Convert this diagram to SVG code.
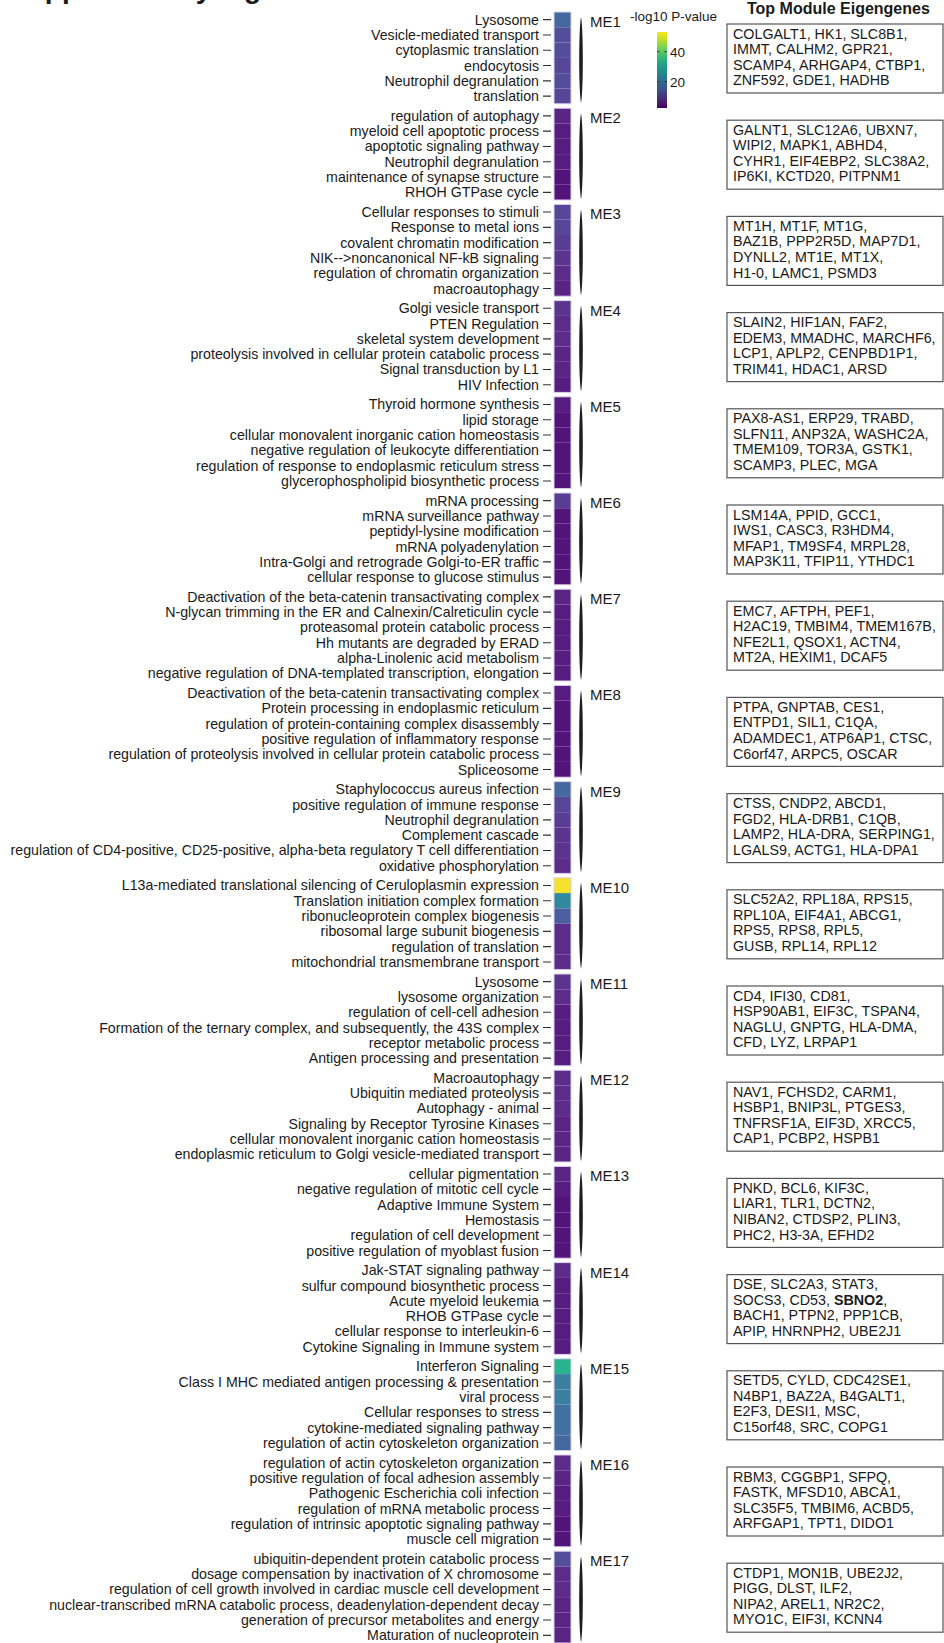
<svg xmlns="http://www.w3.org/2000/svg" xmlns:xlink="http://www.w3.org/1999/xlink" width="944" height="1643" viewBox="0 0 944 1643">
<style>
text{font-family:"Liberation Sans",Arial,Helvetica,sans-serif;fill:#1a1a1a}
.lab{font-size:14.2px;text-anchor:end}
.me{font-size:15px}
.gene{font-size:14.3px}
.leg{font-size:13.5px}
.ttl{font-size:16px;font-weight:bold}
.sup{font-size:28px;font-weight:bold}
.tk{stroke:#333;stroke-width:1.1;fill:none}
.box{fill:#fff;stroke:#555;stroke-width:1.2}
.br{fill:#1e1e1e}
.blk{fill:none;stroke:#dcd2ec;stroke-width:1}
.d0{fill:#52137a}.d1{fill:#571c80}.d2{fill:#5a2485}.d3{fill:#5b2c89}.d4{fill:#5a348d}.d5{fill:#583d92}.d6{fill:#564697}.d7{fill:#524e9a}
.b1{fill:#4b5e9d}.b2{fill:#45699e}.b3{fill:#4071a0}.t1{fill:#3a7fa0}.t2{fill:#31899e}.g{fill:#29b48e}.y{fill:#f5e12b}
</style>
<defs>
<linearGradient id="vir" x1="0" y1="1" x2="0" y2="0">
<stop offset="0" stop-color="#440154"/><stop offset="0.1" stop-color="#482475"/><stop offset="0.2" stop-color="#414487"/><stop offset="0.3" stop-color="#355f8d"/><stop offset="0.4" stop-color="#2a788e"/><stop offset="0.5" stop-color="#21918c"/><stop offset="0.6" stop-color="#22a884"/><stop offset="0.7" stop-color="#44bf70"/><stop offset="0.8" stop-color="#7ad151"/><stop offset="0.9" stop-color="#bddf26"/><stop offset="1" stop-color="#fde725"/>
</linearGradient>
<path id="ticks" class="tk" d="M543,7.65h8M543,22.95h8M543,38.25h8M543,53.55h8M543,68.85h8M543,84.15h8"/>
<path id="br" class="br" d="M581,5C583.4,17 583.4,79 581,91C578.6,79 578.6,17 581,5Z"/>
<rect id="blk" class="blk" x="554" y="0" width="17" height="91.8"/>
<rect id="gbox" class="box" x="727" y="12" width="216" height="69"/>
</defs>

<text class="sup" x="9" y="-2">Supplementary Figure</text>
<text class="ttl" x="747" y="14">Top Module Eigengenes</text>

<g id="legend">
<text class="leg" x="630" y="20.5">-log10 P-value</text>
<rect x="657" y="32" width="10" height="76" fill="url(#vir)"/>
<path d="M657,51.7h2.5M664.5,51.7h2.5M657,81.7h2.5M664.5,81.7h2.5" stroke="#333" stroke-width="1"/>
<text class="leg" x="670" y="56.5">40</text>
<text class="leg" x="670" y="86.5">20</text>
</g>

<g id="connectors"></g>

<g id="me1" transform="translate(0,12)">
<rect class="b2" x="554" y="0" width="17" height="15.3"/><rect class="d7" x="554" y="15.3" width="17" height="15.3"/><rect class="d7" x="554" y="30.6" width="17" height="15.3"/><rect class="d6" x="554" y="45.9" width="17" height="15.3"/><rect class="d7" x="554" y="61.2" width="17" height="15.3"/><rect class="d6" x="554" y="76.5" width="17" height="15.3"/>
<use href="#blk"/><use href="#ticks"/>
<text class="lab" x="539" y="12.65">Lysosome</text>
<text class="lab" x="539" y="27.95">Vesicle-mediated transport</text>
<text class="lab" x="539" y="43.25">cytoplasmic translation</text>
<text class="lab" x="539" y="58.55">endocytosis</text>
<text class="lab" x="539" y="73.85">Neutrophil degranulation</text>
<text class="lab" x="539" y="89.15">translation</text>
<use href="#br"/><text class="me" x="590" y="15">ME1</text>
<use href="#gbox"/>
<text class="gene"><tspan x="733" y="26.5">COLGALT1, HK1, SLC8B1,</tspan><tspan x="733" y="42.1">IMMT, CALHM2, GPR21,</tspan><tspan x="733" y="57.7">SCAMP4, ARHGAP4, CTBP1,</tspan><tspan x="733" y="73.3">ZNF592, GDE1, HADHB</tspan></text>
</g>

<g id="me2" transform="translate(0,108.2)">
<rect class="d2" x="554" y="0" width="17" height="15.3"/><rect class="d1" x="554" y="15.3" width="17" height="15.3"/><rect class="d1" x="554" y="30.6" width="17" height="15.3"/><rect class="d1" x="554" y="45.9" width="17" height="15.3"/><rect class="d0" x="554" y="61.2" width="17" height="15.3"/><rect class="d0" x="554" y="76.5" width="17" height="15.3"/>
<use href="#blk"/><use href="#ticks"/>
<text class="lab" x="539" y="12.65">regulation of autophagy</text>
<text class="lab" x="539" y="27.95">myeloid cell apoptotic process</text>
<text class="lab" x="539" y="43.25">apoptotic signaling pathway</text>
<text class="lab" x="539" y="58.55">Neutrophil degranulation</text>
<text class="lab" x="539" y="73.85">maintenance of synapse structure</text>
<text class="lab" x="539" y="89.15">RHOH GTPase cycle</text>
<use href="#br"/><text class="me" x="590" y="15">ME2</text>
<use href="#gbox"/>
<text class="gene"><tspan x="733" y="26.5">GALNT1, SLC12A6, UBXN7,</tspan><tspan x="733" y="42.1">WIPI2, MAPK1, ABHD4,</tspan><tspan x="733" y="57.7">CYHR1, EIF4EBP2, SLC38A2,</tspan><tspan x="733" y="73.3">IP6KI, KCTD20, PITPNM1</tspan></text>
</g>

<g id="me3" transform="translate(0,204.4)">
<rect class="d6" x="554" y="0" width="17" height="15.3"/><rect class="d6" x="554" y="15.3" width="17" height="15.3"/><rect class="d5" x="554" y="30.6" width="17" height="15.3"/><rect class="d4" x="554" y="45.9" width="17" height="15.3"/><rect class="d3" x="554" y="61.2" width="17" height="15.3"/><rect class="d2" x="554" y="76.5" width="17" height="15.3"/>
<use href="#blk"/><use href="#ticks"/>
<text class="lab" x="539" y="12.65">Cellular responses to stimuli</text>
<text class="lab" x="539" y="27.95">Response to metal ions</text>
<text class="lab" x="539" y="43.25">covalent chromatin modification</text>
<text class="lab" x="539" y="58.55">NIK--&gt;noncanonical NF-kB signaling</text>
<text class="lab" x="539" y="73.85">regulation of chromatin organization</text>
<text class="lab" x="539" y="89.15">macroautophagy</text>
<use href="#br"/><text class="me" x="590" y="15">ME3</text>
<use href="#gbox"/>
<text class="gene"><tspan x="733" y="26.5">MT1H, MT1F, MT1G,</tspan><tspan x="733" y="42.1">BAZ1B, PPP2R5D, MAP7D1,</tspan><tspan x="733" y="57.7">DYNLL2, MT1E, MT1X,</tspan><tspan x="733" y="73.3">H1-0, LAMC1, PSMD3</tspan></text>
</g>

<g id="me4" transform="translate(0,300.6)">
<rect class="d4" x="554" y="0" width="17" height="15.3"/><rect class="d3" x="554" y="15.3" width="17" height="15.3"/><rect class="d3" x="554" y="30.6" width="17" height="15.3"/><rect class="d2" x="554" y="45.9" width="17" height="15.3"/><rect class="d2" x="554" y="61.2" width="17" height="15.3"/><rect class="d1" x="554" y="76.5" width="17" height="15.3"/>
<use href="#blk"/><use href="#ticks"/>
<text class="lab" x="539" y="12.65">Golgi vesicle transport</text>
<text class="lab" x="539" y="27.95">PTEN Regulation</text>
<text class="lab" x="539" y="43.25">skeletal system development</text>
<text class="lab" x="539" y="58.55">proteolysis involved in cellular protein catabolic process</text>
<text class="lab" x="539" y="73.85">Signal transduction by L1</text>
<text class="lab" x="539" y="89.15">HIV Infection</text>
<use href="#br"/><text class="me" x="590" y="15">ME4</text>
<use href="#gbox"/>
<text class="gene"><tspan x="733" y="26.5">SLAIN2, HIF1AN, FAF2,</tspan><tspan x="733" y="42.1">EDEM3, MMADHC, MARCHF6,</tspan><tspan x="733" y="57.7">LCP1, APLP2, CENPBD1P1,</tspan><tspan x="733" y="73.3">TRIM41, HDAC1, ARSD</tspan></text>
</g>

<g id="me5" transform="translate(0,396.8)">
<rect class="d1" x="554" y="0" width="17" height="15.3"/><rect class="d0" x="554" y="15.3" width="17" height="15.3"/><rect class="d0" x="554" y="30.6" width="17" height="15.3"/><rect class="d0" x="554" y="45.9" width="17" height="15.3"/><rect class="d0" x="554" y="61.2" width="17" height="15.3"/><rect class="d0" x="554" y="76.5" width="17" height="15.3"/>
<use href="#blk"/><use href="#ticks"/>
<text class="lab" x="539" y="12.65">Thyroid hormone synthesis</text>
<text class="lab" x="539" y="27.95">lipid storage</text>
<text class="lab" x="539" y="43.25">cellular monovalent inorganic cation homeostasis</text>
<text class="lab" x="539" y="58.55">negative regulation of leukocyte differentiation</text>
<text class="lab" x="539" y="73.85">regulation of response to endoplasmic reticulum stress</text>
<text class="lab" x="539" y="89.15">glycerophospholipid biosynthetic process</text>
<use href="#br"/><text class="me" x="590" y="15">ME5</text>
<use href="#gbox"/>
<text class="gene"><tspan x="733" y="26.5">PAX8-AS1, ERP29, TRABD,</tspan><tspan x="733" y="42.1">SLFN11, ANP32A, WASHC2A,</tspan><tspan x="733" y="57.7">TMEM109, TOR3A, GSTK1,</tspan><tspan x="733" y="73.3">SCAMP3, PLEC, MGA</tspan></text>
</g>

<g id="me6" transform="translate(0,493)">
<rect class="d5" x="554" y="0" width="17" height="15.3"/><rect class="d0" x="554" y="15.3" width="17" height="15.3"/><rect class="d0" x="554" y="30.6" width="17" height="15.3"/><rect class="d0" x="554" y="45.9" width="17" height="15.3"/><rect class="d0" x="554" y="61.2" width="17" height="15.3"/><rect class="d0" x="554" y="76.5" width="17" height="15.3"/>
<use href="#blk"/><use href="#ticks"/>
<text class="lab" x="539" y="12.65">mRNA processing</text>
<text class="lab" x="539" y="27.95">mRNA surveillance pathway</text>
<text class="lab" x="539" y="43.25">peptidyl-lysine modification</text>
<text class="lab" x="539" y="58.55">mRNA polyadenylation</text>
<text class="lab" x="539" y="73.85">Intra-Golgi and retrograde Golgi-to-ER traffic</text>
<text class="lab" x="539" y="89.15">cellular response to glucose stimulus</text>
<use href="#br"/><text class="me" x="590" y="15">ME6</text>
<use href="#gbox"/>
<text class="gene"><tspan x="733" y="26.5">LSM14A, PPID, GCC1,</tspan><tspan x="733" y="42.1">IWS1, CASC3, R3HDM4,</tspan><tspan x="733" y="57.7">MFAP1, TM9SF4, MRPL28,</tspan><tspan x="733" y="73.3">MAP3K11, TFIP11, YTHDC1</tspan></text>
</g>

<g id="me7" transform="translate(0,589.2)">
<rect class="d2" x="554" y="0" width="17" height="15.3"/><rect class="d1" x="554" y="15.3" width="17" height="15.3"/><rect class="d1" x="554" y="30.6" width="17" height="15.3"/><rect class="d1" x="554" y="45.9" width="17" height="15.3"/><rect class="d1" x="554" y="61.2" width="17" height="15.3"/><rect class="d1" x="554" y="76.5" width="17" height="15.3"/>
<use href="#blk"/><use href="#ticks"/>
<text class="lab" x="539" y="12.65">Deactivation of the beta-catenin transactivating complex</text>
<text class="lab" x="539" y="27.95">N-glycan trimming in the ER and Calnexin/Calreticulin cycle</text>
<text class="lab" x="539" y="43.25">proteasomal protein catabolic process</text>
<text class="lab" x="539" y="58.55">Hh mutants are degraded by ERAD</text>
<text class="lab" x="539" y="73.85">alpha-Linolenic acid metabolism</text>
<text class="lab" x="539" y="89.15">negative regulation of DNA-templated transcription, elongation</text>
<use href="#br"/><text class="me" x="590" y="15">ME7</text>
<use href="#gbox"/>
<text class="gene"><tspan x="733" y="26.5">EMC7, AFTPH, PEF1,</tspan><tspan x="733" y="42.1">H2AC19, TMBIM4, TMEM167B,</tspan><tspan x="733" y="57.7">NFE2L1, QSOX1, ACTN4,</tspan><tspan x="733" y="73.3">MT2A, HEXIM1, DCAF5</tspan></text>
</g>

<g id="me8" transform="translate(0,685.4)">
<rect class="d1" x="554" y="0" width="17" height="15.3"/><rect class="d0" x="554" y="15.3" width="17" height="15.3"/><rect class="d0" x="554" y="30.6" width="17" height="15.3"/><rect class="d0" x="554" y="45.9" width="17" height="15.3"/><rect class="d0" x="554" y="61.2" width="17" height="15.3"/><rect class="d0" x="554" y="76.5" width="17" height="15.3"/>
<use href="#blk"/><use href="#ticks"/>
<text class="lab" x="539" y="12.65">Deactivation of the beta-catenin transactivating complex</text>
<text class="lab" x="539" y="27.95">Protein processing in endoplasmic reticulum</text>
<text class="lab" x="539" y="43.25">regulation of protein-containing complex disassembly</text>
<text class="lab" x="539" y="58.55">positive regulation of inflammatory response</text>
<text class="lab" x="539" y="73.85">regulation of proteolysis involved in cellular protein catabolic process</text>
<text class="lab" x="539" y="89.15">Spliceosome</text>
<use href="#br"/><text class="me" x="590" y="15">ME8</text>
<use href="#gbox"/>
<text class="gene"><tspan x="733" y="26.5">PTPA, GNPTAB, CES1,</tspan><tspan x="733" y="42.1">ENTPD1, SIL1, C1QA,</tspan><tspan x="733" y="57.7">ADAMDEC1, ATP6AP1, CTSC,</tspan><tspan x="733" y="73.3">C6orf47, ARPC5, OSCAR</tspan></text>
</g>

<g id="me9" transform="translate(0,781.6)">
<rect class="b2" x="554" y="0" width="17" height="15.3"/><rect class="d6" x="554" y="15.3" width="17" height="15.3"/><rect class="d5" x="554" y="30.6" width="17" height="15.3"/><rect class="d4" x="554" y="45.9" width="17" height="15.3"/><rect class="d4" x="554" y="61.2" width="17" height="15.3"/><rect class="d3" x="554" y="76.5" width="17" height="15.3"/>
<use href="#blk"/><use href="#ticks"/>
<text class="lab" x="539" y="12.65">Staphylococcus aureus infection</text>
<text class="lab" x="539" y="27.95">positive regulation of immune response</text>
<text class="lab" x="539" y="43.25">Neutrophil degranulation</text>
<text class="lab" x="539" y="58.55">Complement cascade</text>
<text class="lab" x="539" y="73.85">regulation of CD4-positive, CD25-positive, alpha-beta regulatory T cell differentiation</text>
<text class="lab" x="539" y="89.15">oxidative phosphorylation</text>
<use href="#br"/><text class="me" x="590" y="15">ME9</text>
<use href="#gbox"/>
<text class="gene"><tspan x="733" y="26.5">CTSS, CNDP2, ABCD1,</tspan><tspan x="733" y="42.1">FGD2, HLA-DRB1, C1QB,</tspan><tspan x="733" y="57.7">LAMP2, HLA-DRA, SERPING1,</tspan><tspan x="733" y="73.3">LGALS9, ACTG1, HLA-DPA1</tspan></text>
</g>

<g id="me10" transform="translate(0,877.8)">
<rect class="y" x="554" y="0" width="17" height="15.3"/><rect class="t2" x="554" y="15.3" width="17" height="15.3"/><rect class="b1" x="554" y="30.6" width="17" height="15.3"/><rect class="d3" x="554" y="45.9" width="17" height="15.3"/><rect class="d3" x="554" y="61.2" width="17" height="15.3"/><rect class="d3" x="554" y="76.5" width="17" height="15.3"/>
<use href="#blk"/><use href="#ticks"/>
<text class="lab" x="539" y="12.65">L13a-mediated translational silencing of Ceruloplasmin expression</text>
<text class="lab" x="539" y="27.95">Translation initiation complex formation</text>
<text class="lab" x="539" y="43.25">ribonucleoprotein complex biogenesis</text>
<text class="lab" x="539" y="58.55">ribosomal large subunit biogenesis</text>
<text class="lab" x="539" y="73.85">regulation of translation</text>
<text class="lab" x="539" y="89.15">mitochondrial transmembrane transport</text>
<use href="#br"/><text class="me" x="590" y="15">ME10</text>
<use href="#gbox"/>
<text class="gene"><tspan x="733" y="26.5">SLC52A2, RPL18A, RPS15,</tspan><tspan x="733" y="42.1">RPL10A, EIF4A1, ABCG1,</tspan><tspan x="733" y="57.7">RPS5, RPS8, RPL5,</tspan><tspan x="733" y="73.3">GUSB, RPL14, RPL12</tspan></text>
</g>

<g id="me11" transform="translate(0,974)">
<rect class="d4" x="554" y="0" width="17" height="15.3"/><rect class="d3" x="554" y="15.3" width="17" height="15.3"/><rect class="d1" x="554" y="30.6" width="17" height="15.3"/><rect class="d1" x="554" y="45.9" width="17" height="15.3"/><rect class="d1" x="554" y="61.2" width="17" height="15.3"/><rect class="d1" x="554" y="76.5" width="17" height="15.3"/>
<use href="#blk"/><use href="#ticks"/>
<text class="lab" x="539" y="12.65">Lysosome</text>
<text class="lab" x="539" y="27.95">lysosome organization</text>
<text class="lab" x="539" y="43.25">regulation of cell-cell adhesion</text>
<text class="lab" x="539" y="58.55">Formation of the ternary complex, and subsequently, the 43S complex</text>
<text class="lab" x="539" y="73.85">receptor metabolic process</text>
<text class="lab" x="539" y="89.15">Antigen processing and presentation</text>
<use href="#br"/><text class="me" x="590" y="15">ME11</text>
<use href="#gbox"/>
<text class="gene"><tspan x="733" y="26.5">CD4, IFI30, CD81,</tspan><tspan x="733" y="42.1">HSP90AB1, EIF3C, TSPAN4,</tspan><tspan x="733" y="57.7">NAGLU, GNPTG, HLA-DMA,</tspan><tspan x="733" y="73.3">CFD, LYZ, LRPAP1</tspan></text>
</g>

<g id="me12" transform="translate(0,1070.2)">
<rect class="d3" x="554" y="0" width="17" height="15.3"/><rect class="d3" x="554" y="15.3" width="17" height="15.3"/><rect class="d3" x="554" y="30.6" width="17" height="15.3"/><rect class="d2" x="554" y="45.9" width="17" height="15.3"/><rect class="d2" x="554" y="61.2" width="17" height="15.3"/><rect class="d2" x="554" y="76.5" width="17" height="15.3"/>
<use href="#blk"/><use href="#ticks"/>
<text class="lab" x="539" y="12.65">Macroautophagy</text>
<text class="lab" x="539" y="27.95">Ubiquitin mediated proteolysis</text>
<text class="lab" x="539" y="43.25">Autophagy - animal</text>
<text class="lab" x="539" y="58.55">Signaling by Receptor Tyrosine Kinases</text>
<text class="lab" x="539" y="73.85">cellular monovalent inorganic cation homeostasis</text>
<text class="lab" x="539" y="89.15">endoplasmic reticulum to Golgi vesicle-mediated transport</text>
<use href="#br"/><text class="me" x="590" y="15">ME12</text>
<use href="#gbox"/>
<text class="gene"><tspan x="733" y="26.5">NAV1, FCHSD2, CARM1,</tspan><tspan x="733" y="42.1">HSBP1, BNIP3L, PTGES3,</tspan><tspan x="733" y="57.7">TNFRSF1A, EIF3D, XRCC5,</tspan><tspan x="733" y="73.3">CAP1, PCBP2, HSPB1</tspan></text>
</g>

<g id="me13" transform="translate(0,1166.4)">
<rect class="d2" x="554" y="0" width="17" height="15.3"/><rect class="d1" x="554" y="15.3" width="17" height="15.3"/><rect class="d0" x="554" y="30.6" width="17" height="15.3"/><rect class="d0" x="554" y="45.9" width="17" height="15.3"/><rect class="d0" x="554" y="61.2" width="17" height="15.3"/><rect class="d0" x="554" y="76.5" width="17" height="15.3"/>
<use href="#blk"/><use href="#ticks"/>
<text class="lab" x="539" y="12.65">cellular pigmentation</text>
<text class="lab" x="539" y="27.95">negative regulation of mitotic cell cycle</text>
<text class="lab" x="539" y="43.25">Adaptive Immune System</text>
<text class="lab" x="539" y="58.55">Hemostasis</text>
<text class="lab" x="539" y="73.85">regulation of cell development</text>
<text class="lab" x="539" y="89.15">positive regulation of myoblast fusion</text>
<use href="#br"/><text class="me" x="590" y="15">ME13</text>
<use href="#gbox"/>
<text class="gene"><tspan x="733" y="26.5">PNKD, BCL6, KIF3C,</tspan><tspan x="733" y="42.1">LIAR1, TLR1, DCTN2,</tspan><tspan x="733" y="57.7">NIBAN2, CTDSP2, PLIN3,</tspan><tspan x="733" y="73.3">PHC2, H3-3A, EFHD2</tspan></text>
</g>

<g id="me14" transform="translate(0,1262.6)">
<rect class="d3" x="554" y="0" width="17" height="15.3"/><rect class="d1" x="554" y="15.3" width="17" height="15.3"/><rect class="d1" x="554" y="30.6" width="17" height="15.3"/><rect class="d1" x="554" y="45.9" width="17" height="15.3"/><rect class="d1" x="554" y="61.2" width="17" height="15.3"/><rect class="d1" x="554" y="76.5" width="17" height="15.3"/>
<use href="#blk"/><use href="#ticks"/>
<text class="lab" x="539" y="12.65">Jak-STAT signaling pathway</text>
<text class="lab" x="539" y="27.95">sulfur compound biosynthetic process</text>
<text class="lab" x="539" y="43.25">Acute myeloid leukemia</text>
<text class="lab" x="539" y="58.55">RHOB GTPase cycle</text>
<text class="lab" x="539" y="73.85">cellular response to interleukin-6</text>
<text class="lab" x="539" y="89.15">Cytokine Signaling in Immune system</text>
<use href="#br"/><text class="me" x="590" y="15">ME14</text>
<use href="#gbox"/>
<text class="gene"><tspan x="733" y="26.5">DSE, SLC2A3, STAT3,</tspan><tspan x="733" y="42.1">SOCS3, CD53, <tspan font-weight="bold">SBNO2</tspan>,</tspan><tspan x="733" y="57.7">BACH1, PTPN2, PPP1CB,</tspan><tspan x="733" y="73.3">APIP, HNRNPH2, UBE2J1</tspan></text>
</g>

<g id="me15" transform="translate(0,1358.8)">
<rect class="g" x="554" y="0" width="17" height="15.3"/><rect class="t1" x="554" y="15.3" width="17" height="15.3"/><rect class="t1" x="554" y="30.6" width="17" height="15.3"/><rect class="b3" x="554" y="45.9" width="17" height="15.3"/><rect class="b3" x="554" y="61.2" width="17" height="15.3"/><rect class="b2" x="554" y="76.5" width="17" height="15.3"/>
<use href="#blk"/><use href="#ticks"/>
<text class="lab" x="539" y="12.65">Interferon Signaling</text>
<text class="lab" x="539" y="27.95">Class I MHC mediated antigen processing &amp; presentation</text>
<text class="lab" x="539" y="43.25">viral process</text>
<text class="lab" x="539" y="58.55">Cellular responses to stress</text>
<text class="lab" x="539" y="73.85">cytokine-mediated signaling pathway</text>
<text class="lab" x="539" y="89.15">regulation of actin cytoskeleton organization</text>
<use href="#br"/><text class="me" x="590" y="15">ME15</text>
<use href="#gbox"/>
<text class="gene"><tspan x="733" y="26.5">SETD5, CYLD, CDC42SE1,</tspan><tspan x="733" y="42.1">N4BP1, BAZ2A, B4GALT1,</tspan><tspan x="733" y="57.7">E2F3, DESI1, MSC,</tspan><tspan x="733" y="73.3">C15orf48, SRC, COPG1</tspan></text>
</g>

<g id="me16" transform="translate(0,1455)">
<rect class="d3" x="554" y="0" width="17" height="15.3"/><rect class="d2" x="554" y="15.3" width="17" height="15.3"/><rect class="d1" x="554" y="30.6" width="17" height="15.3"/><rect class="d1" x="554" y="45.9" width="17" height="15.3"/><rect class="d0" x="554" y="61.2" width="17" height="15.3"/><rect class="d0" x="554" y="76.5" width="17" height="15.3"/>
<use href="#blk"/><use href="#ticks"/>
<text class="lab" x="539" y="12.65">regulation of actin cytoskeleton organization</text>
<text class="lab" x="539" y="27.95">positive regulation of focal adhesion assembly</text>
<text class="lab" x="539" y="43.25">Pathogenic Escherichia coli infection</text>
<text class="lab" x="539" y="58.55">regulation of mRNA metabolic process</text>
<text class="lab" x="539" y="73.85">regulation of intrinsic apoptotic signaling pathway</text>
<text class="lab" x="539" y="89.15">muscle cell migration</text>
<use href="#br"/><text class="me" x="590" y="15">ME16</text>
<use href="#gbox"/>
<text class="gene"><tspan x="733" y="26.5">RBM3, CGGBP1, SFPQ,</tspan><tspan x="733" y="42.1">FASTK, MFSD10, ABCA1,</tspan><tspan x="733" y="57.7">SLC35F5, TMBIM6, ACBD5,</tspan><tspan x="733" y="73.3">ARFGAP1, TPT1, DIDO1</tspan></text>
</g>

<g id="me17" transform="translate(0,1551.2)">
<rect class="d7" x="554" y="0" width="17" height="15.3"/><rect class="d3" x="554" y="15.3" width="17" height="15.3"/><rect class="d3" x="554" y="30.6" width="17" height="15.3"/><rect class="d2" x="554" y="45.9" width="17" height="15.3"/><rect class="d2" x="554" y="61.2" width="17" height="15.3"/><rect class="d2" x="554" y="76.5" width="17" height="15.3"/>
<use href="#blk"/><use href="#ticks"/>
<text class="lab" x="539" y="12.65">ubiquitin-dependent protein catabolic process</text>
<text class="lab" x="539" y="27.95">dosage compensation by inactivation of X chromosome</text>
<text class="lab" x="539" y="43.25">regulation of cell growth involved in cardiac muscle cell development</text>
<text class="lab" x="539" y="58.55">nuclear-transcribed mRNA catabolic process, deadenylation-dependent decay</text>
<text class="lab" x="539" y="73.85">generation of precursor metabolites and energy</text>
<text class="lab" x="539" y="89.15">Maturation of nucleoprotein</text>
<use href="#br"/><text class="me" x="590" y="15">ME17</text>
<use href="#gbox"/>
<text class="gene"><tspan x="733" y="26.5">CTDP1, MON1B, UBE2J2,</tspan><tspan x="733" y="42.1">PIGG, DLST, ILF2,</tspan><tspan x="733" y="57.7">NIPA2, AREL1, NR2C2,</tspan><tspan x="733" y="73.3">MYO1C, EIF3I, KCNN4</tspan></text>
</g>
</svg>
